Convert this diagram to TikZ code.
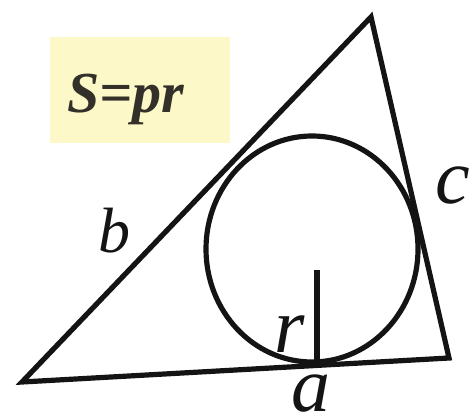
\documentclass[tikz,border=0pt]{standalone}
\usepackage{fontspec}
\setmainfont{Liberation Serif}
\usetikzlibrary{calc}

\begin{document}
\begin{tikzpicture}[
    x=0.5pt, y=-0.5pt,
    every node/.style={font=\itshape},
]
% Colors
\definecolor{notefill}{RGB}{253,248,200}
\definecolor{inkblack}{RGB}{20,20,20}
% ============================================================
% Styles
% ============================================================
\tikzset{
    edge/.style={draw=inkblack, line width=2.6pt, line join=miter},
    sidelabel/.style={inner sep=0pt, text=inkblack, font=\itshape\fontsize{39}{42}\selectfont},
    formula/.style={inner sep=0pt, text=black!85!olive, font=\bfseries\itshape\fontsize{29}{32}\selectfont},
}
\useasboundingbox (0,0) rectangle (474,416);

% ============================================================
% Formula note
% ============================================================
\fill[notefill] (50,37) rectangle (230,143);
\node[formula] (area) at (126,99) {S=pr};

% ============================================================
% Triangle and inscribed circle
% ============================================================
\coordinate (A) at (22,382);
\coordinate (B) at (371,17);
\coordinate (C) at (449,358);
\coordinate (O) at (312,249);
\draw[edge] (A) -- (B) -- (C) -- cycle;
\draw[edge] (O) ellipse [x radius=106, y radius=113];

% Radius down to side a
\coordinate (rtop) at (317,270);
\coordinate (rfoot) at (317,367);
\draw[edge] (rtop) -- (rfoot);

% ============================================================
% Labels
% ============================================================
\node[sidelabel, font=\itshape\fontsize{32}{35}\selectfont] (lb) at (114,231) {b};
\node[sidelabel] (lc) at (453,186) {c};
\node[sidelabel] (lr) at (290,334) {r};
\node[sidelabel] (la) at (311,394) {a};
\end{tikzpicture}
\end{document}
